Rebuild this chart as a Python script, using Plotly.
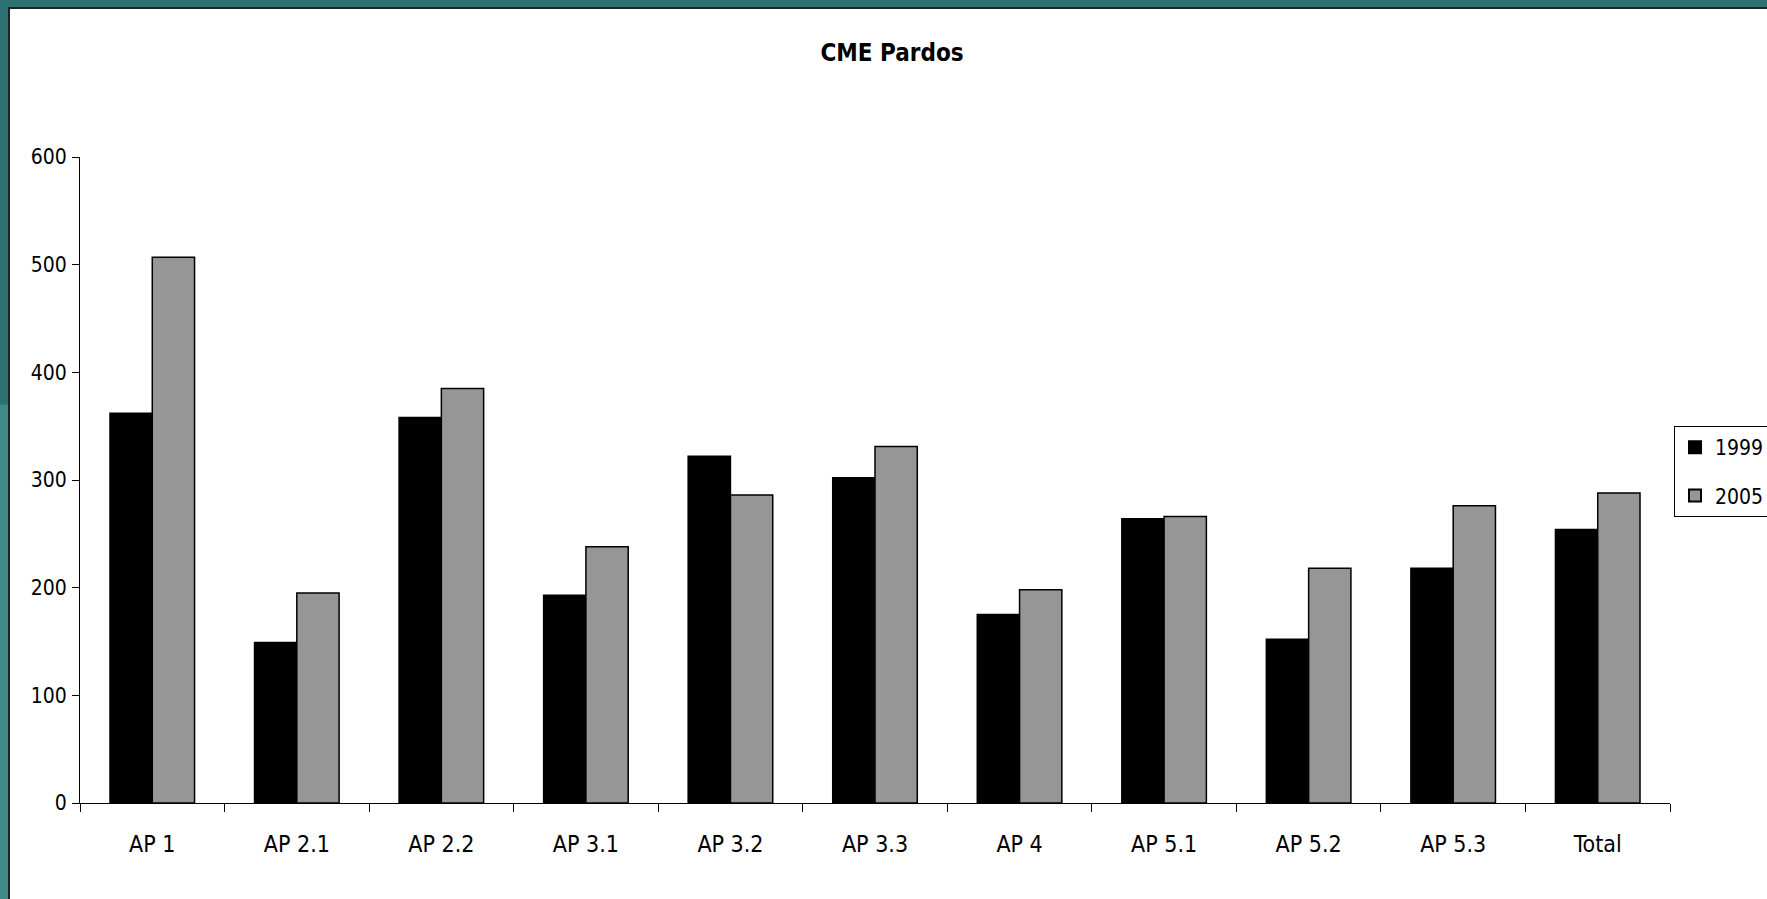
import plotly.graph_objects as go

categories = ["AP 1", "AP 2.1", "AP 2.2", "AP 3.1", "AP 3.2", "AP 3.3", "AP 4", "AP 5.1", "AP 5.2", "AP 5.3", "Total"]
values_1999 = [362, 149, 358, 193, 322, 302, 175, 264, 152, 218, 254]
values_2005 = [507, 195, 385, 238, 286, 331, 198, 266, 218, 276, 288]
y_ticks = [0, 100, 200, 300, 400, 500, 600]

W, H = 1767, 899
L, R, T, B = 80, 97, 157, 96
pw, ph = W - L - R, H - T - B

def px(x):
    return (x - L) / pw

def py(y):
    return (H - B - y) / ph

FONT = "DejaVu Sans Condensed, Liberation Sans Narrow, Arial Narrow, Liberation Sans, Arial, sans-serif"

fig = go.Figure()
fig.add_trace(go.Bar(name="1999", x=categories, y=values_1999, legendgroup="a",
                     marker=dict(color="#000000", line=dict(color="#000000", width=1.5))))
fig.add_trace(go.Bar(name="2005", x=categories, y=values_2005, legendgroup="b",
                     marker=dict(color="#969696", line=dict(color="#000000", width=1.5))))

fig.update_layout(
    width=W, height=H,
    margin=dict(l=L, r=R, t=T, b=B, pad=0, autoexpand=False),
    paper_bgcolor="#2d7272",
    plot_bgcolor="#ffffff",
    barmode="group",
    bargap=0.415,
    bargroupgap=0,
    title=dict(text="<b>CME Pardos</b>", x=px(892), xref="paper", xanchor="center",
               y=1 - 53 / H, yanchor="middle",
               font=dict(family=FONT, size=24, color="#000000")),
    font=dict(family=FONT, color="#000000"),
    xaxis=dict(showline=True, linecolor="#000000", linewidth=1, ticks="outside",
               tickson="boundaries", ticklen=8, tickcolor="#000000",
               ticklabelstandoff=20,
               tickfont=dict(size=23, family=FONT), showgrid=False, zeroline=False),
    yaxis=dict(range=[0, 600], tickvals=y_ticks, showline=True, linecolor="#000000",
               linewidth=1, ticks="outside", ticklen=7, tickcolor="#000000",
               ticklabelstandoff=1,
               tickfont=dict(size=21, family=FONT), showgrid=False, zeroline=False),
    legend=dict(x=px(1674), y=py(426), xanchor="left", yanchor="top",
                bgcolor="#ffffff", bordercolor="#000000", borderwidth=1,
                font=dict(size=21, family=FONT), tracegroupgap=18,
                traceorder="grouped", itemsizing="constant"),
    shapes=[
        dict(type="rect", xref="paper", yref="paper", layer="below",
             x0=px(0), x1=px(W), y0=py(H), y1=py(0),
             fillcolor="#3f8a88", line=dict(width=0)),
        dict(type="rect", xref="paper", yref="paper", layer="below",
             x0=px(0), x1=px(W), y0=py(H * 0.45), y1=py(0),
             fillcolor="#2d7272", line=dict(width=0)),
        dict(type="rect", xref="paper", yref="paper", layer="below",
             x0=px(9), x1=px(W + 5), y0=py(H + 5), y1=py(8),
             fillcolor="#ffffff", line=dict(color="#222222", width=2)),
    ],
)

fig.write_html("out.html", config={"displayModeBar": False},
               post_script="document.body.style.margin='0';document.body.style.overflow='hidden';")
